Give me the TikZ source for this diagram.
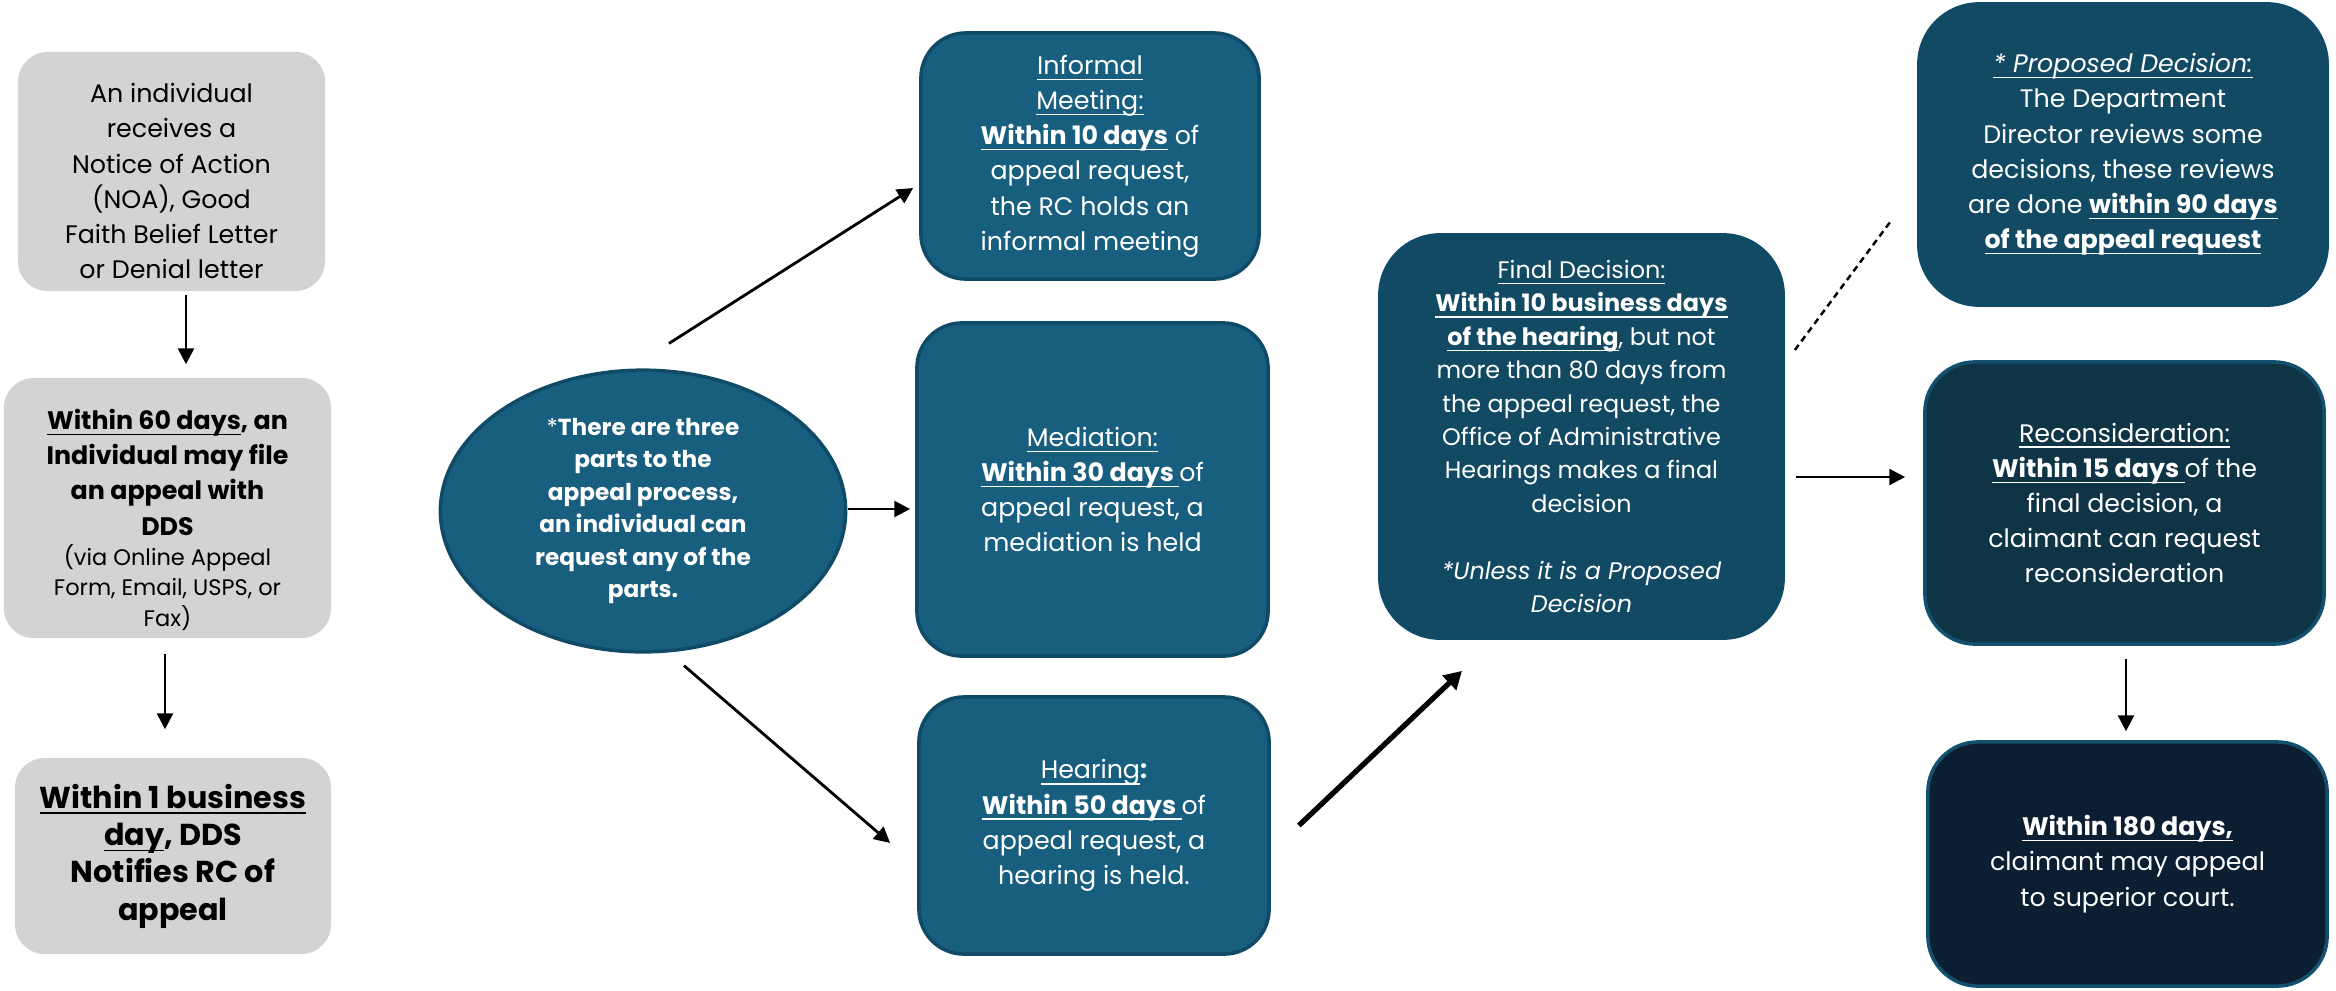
\documentclass[tikz,border=0pt]{standalone}
\usepackage{fontspec}
\setmainfont{Poppins}
\usetikzlibrary{arrows.meta, shapes.geometric, positioning}

\definecolor{boxgray}{HTML}{D3D3D3}
\definecolor{stepblue}{HTML}{175E7F}
\definecolor{decblue}{HTML}{134A63}
\definecolor{recblue}{HTML}{0E3446}
\definecolor{courtblue}{HTML}{0C1E32}
\definecolor{edgeblue}{HTML}{0F4A66}
\definecolor{edgelight}{HTML}{13506E}

\newcommand{\uln}[1]{\underline{\smash{#1}}\vphantom{#1}}
\newcommand{\bul}[1]{\textbf{\uln{#1}}}
\newcommand{\smalltxt}{\fontsize{6.4}{8.4}\selectfont}

\begin{document}
\begin{tikzpicture}[x=0.01cm, y=-0.01cm,
                    every node/.style={align=center, inner sep=2pt},
                    graybox/.style={rectangle, rounded corners=0.3cm, fill=boxgray, text=black,
                                    font=\fontsize{7.2}{10}\selectfont},
                    bluebox/.style={rectangle, rounded corners=0.45cm, fill=stepblue, draw=edgeblue,
                                    line width=1pt, text=white, font=\fontsize{7.2}{10}\selectfont},
                    arr/.style={-{Triangle[length=4.5pt,width=4.5pt]}, line width=0.8pt}]
\useasboundingbox (0,0) rectangle (2336,990);

% left column: how an appeal starts
\node[graybox, minimum width=3.07cm, minimum height=2.39cm] (notice) at (171.5,171.5)
    {\rule{0pt}{11pt}An individual\\receives a\\Notice of Action\\(NOA), Good\\Faith Belief Letter\\or Denial letter};
\node[graybox, minimum width=3.27cm, minimum height=2.6cm] (file) at (167.5,508)
    {\rule{0pt}{12.5pt}\bul{Within 60 days}\textbf{, an}\\\textbf{Individual may file}\\\textbf{an appeal with}\\\textbf{DDS}\\[-1.5pt]
     \smalltxt (via Online Appeal\\[-1.3pt]\smalltxt Form, Email, USPS, or\\[-1.3pt]\smalltxt Fax)};
\node[graybox, minimum width=3.16cm, minimum height=1.96cm, font=\bfseries\fontsize{8.6}{10.6}\selectfont] (notify) at (173,856)
    {\uln{Within 1 business}\\\uln{day}, DDS\\Notifies RC of\\appeal};

% the three parts
\node[ellipse, fill=stepblue, draw=edgeblue, line width=1pt, text=white,
      font=\bfseries\fontsize{6.6}{9.2}\selectfont, minimum width=4.05cm, minimum height=2.68cm] (parts) at (643,511)
    {{\mdseries*}There are three\\parts to the\\appeal process,\\an individual can\\request any of the\\parts.};

\node[bluebox, minimum width=3.38cm, minimum height=2.46cm] (informal) at (1090,156)
    {\uln{Informal}\\\uln{Meeting:}\\\bul{Within 10 days} of\\appeal request,\\the RC holds an\\informal meeting};
\node[bluebox, minimum width=3.51cm, minimum height=3.33cm] (mediation) at (1092.5,489.5)
    {\uln{Mediation:}\\\bul{Within 30 days }of\\appeal request, a\\mediation is held};
\node[bluebox, minimum width=3.5cm, minimum height=2.57cm] (hearing) at (1094,825.5)
    {\uln{Hearing}\textbf{:}\\\bul{Within 50 days }of\\appeal request, a\\hearing is held.};

% decision and after
\node[bluebox, fill=decblue, rounded corners=0.6cm, minimum width=4.03cm, minimum height=4.03cm,
      font=\fontsize{6.8}{9.5}\selectfont] (final) at (1581.5,436.5)
    {\uln{Final Decision:}\\\bul{Within 10 business days}\\\bul{of the hearing}, but not\\more than 80 days from\\
     the appeal request, the\\Office of Administrative\\Hearings makes a final\\decision\\[9.5pt]
     \textit{*Unless it is a Proposed}\\\textit{Decision}};
\node[bluebox, fill=decblue, rounded corners=0.6cm, minimum width=4.08cm, minimum height=3.01cm] (proposed) at (2123,154.5)
    {\textit{\uln{* Proposed Decision:}}\\The Department\\Director reviews some\\decisions, these reviews\\
     are done \bul{within 90 days}\\\bul{of the appeal request}};
\node[bluebox, fill=recblue, draw=edgelight, rounded corners=0.5cm, minimum width=3.99cm, minimum height=2.82cm] (recon) at (2124.5,503)
    {\uln{Reconsideration:}\\\bul{Within 15 days }of the\\final decision, a\\claimant can request\\reconsideration};
\node[bluebox, fill=courtblue, draw=edgelight, rounded corners=0.5cm, minimum width=3.99cm, minimum height=2.44cm] (court) at (2127.5,864)
    {\bul{Within 180 days,}\\claimant may appeal\\to superior court.};

% connectors
\draw[arr] ([shift={(14.5,3)}]notice.south) -- ([shift={(18.5,-13)}]file.north);
\draw[arr] ([shift={(-2.5,15)}]file.south) -- ([shift={(-8,-28)}]notify.north);
\draw[arr] ([shift={(26,-25)}]parts.north) -- ([shift={(-6,32)}]informal.west);
\draw[arr] ([shift={(1,-2)}]parts.east) -- ([shift={(-5,19.5)}]mediation.west);
\draw[arr] ([shift={(41,12)}]parts.south) -- ([shift={(-27,17.5)}]hearing.west);
\draw[-{Triangle[length=5pt,width=5.5pt]}, line width=1.5pt] ([shift={(28,0)}]hearing.east) -- ([shift={(-119.5,31)}]final.south);
\draw[dash pattern=on 1.8pt off 1.3pt, line width=0.7pt] ([shift={(10,-86.5)}]final.east) -- ([shift={(-27,67.5)}]proposed.west);
\draw[arr] ([shift={(11,40.5)}]final.east) -- ([shift={(-18,-26)}]recon.west);
\draw[arr] ([shift={(1.5,13)}]recon.south) -- ([shift={(-1.5,-9)}]court.north);
\end{tikzpicture}
\end{document}
